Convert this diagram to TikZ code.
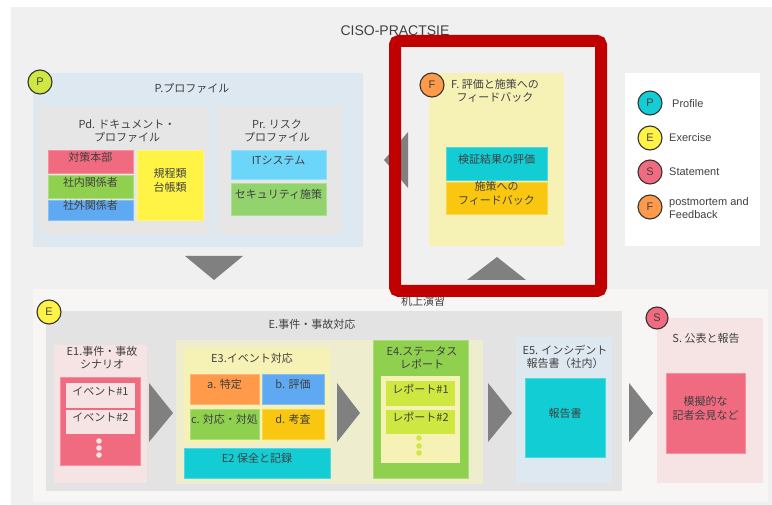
\documentclass[tikz,border=0pt]{standalone}
\usepackage{fontspec}
\setmainfont{Liberation Sans}
\newfontfamily\jp{Noto Sans CJK JP}
\usetikzlibrary{fit}
\definecolor{bgout}{HTML}{F0F0F0}
\definecolor{bglow}{HTML}{F7F6F5}
\definecolor{pblue}{HTML}{DEE8F1}
\definecolor{pgray}{HTML}{E6E6E6}
\definecolor{egray}{HTML}{E3E3E3}
\definecolor{ppink}{HTML}{F5E4E3}
\definecolor{pyel}{HTML}{F6F2B6}
\definecolor{pyel2}{HTML}{EEEECF}
\definecolor{cpink}{HTML}{F06B80}
\definecolor{cgreen}{HTML}{8FD14F}
\definecolor{cgreen2}{HTML}{92D36E}
\definecolor{cblue}{HTML}{5EA9F2}
\definecolor{cyellow}{HTML}{FFF445}
\definecolor{clcyan}{HTML}{6CD6FA}
\definecolor{ccyan}{HTML}{12CDD4}
\definecolor{camber}{HTML}{FAC710}
\definecolor{corange}{HTML}{FF9A4A}
\definecolor{clime}{HTML}{CEE741}
\definecolor{tgray}{HTML}{808080}
\definecolor{cred}{HTML}{C00000}
\definecolor{txt}{HTML}{404040}
\definecolor{cstroke}{HTML}{333333}
\tikzset{
  bx/.style={fill=#1, draw=#1!75!white, line width=0.8pt, inner sep=0pt, align=center, text=txt, font=\jp\fontsize{11}{14}\selectfont},
  area/.style={fill=#1, draw=none, inner sep=0pt},
  lbl/.style={inner sep=0pt, align=center, text=txt, font=\jp\fontsize{11}{13}\selectfont},
  badge/.style={circle, draw=cstroke, line width=1.1pt, fill=#1, minimum size=24pt, inner sep=0pt, text=txt, font=\fontsize{11}{13}\selectfont},
  tri/.style={fill=tgray, draw=none},
  dot/.style={circle, fill=#1, minimum size=5.6pt, inner sep=0pt},
  legt/.style={anchor=west, inner sep=0pt, align=left, text=txt, font=\fontsize{11}{13}\selectfont}
}
\begin{document}
\begin{tikzpicture}[x=1pt,y=-1pt]
\useasboundingbox (0,0) rectangle (772,505);
% backgrounds
\fill[bgout] (11,7) rectangle (772,505);
\node[area=bglow, fit={(33,289) (768,502)}] (lower) {};
\node[text=txt, inner sep=0pt, font=\fontsize{14}{16}\selectfont] (title) at (395,31) {CISO-PRACTSIE};
% P area
\node[area=pblue, fit={(33,73) (363,247)}] (parea) {};
\node[lbl] (ptitle) at (192,88) {P.プロファイル};
\node[area=pgray, fit={(39,106) (209,234)}] (pd) {};
\node[lbl] (pdt) at (127,131) {Pd. ドキュメント・\\プロファイル};
\node[area=pgray, fit={(217,106) (342,234)}] (pr) {};
\node[lbl] (prt) at (277,131) {Pr. リスク\\プロファイル};
\node[bx=cpink, fit={(48,150) (133,173)}] (honbu) {対策本部};
\node[bx=cgreen, fit={(48,175) (133,198)}] (shanai) {社内関係者};
\node[bx=cblue, fit={(48,200) (133,220)}] (shagai) {社外関係者};
\node[bx=cyellow, fit={(137,150) (203,220)}] (kitei) {規程類\\台帳類};
\node[bx=clcyan, fit={(231,150) (326,179)}] (it) {ITシステム};
\node[bx=cgreen2, fit={(231,183) (326,215)}] (sec) {セキュリティ施策};
\node[badge=clime] (bP) at (40,82) {P};
% F area
\node[area=pyel, fit={(429,73) (564,246)}] (farea) {};
\node[lbl] (ft) at (495,91) {F. 評価と施策への\\フィードバック};
\node[bx=ccyan, fit={(446,147) (547,180)}] (kensho) {検証結果の評価};
\node[bx=camber, fit={(446,182) (547,214)}] (fb) {施策への\\フィードバック};
\node[badge=corange] (bF) at (432,85) {F};
% arrows between P/F/E
\fill[tri] (185,256) -- (243,256) -- (214,280) -- cycle;
\fill[tri] (408,132) -- (408,188) -- (384,160) -- cycle;
\fill[tri] (467,280) -- (526,280) -- (497,257) -- cycle;
% legend
\node[area=white, fit={(625,73) (760,246)}] (legend) {};
\node[badge=ccyan] (lP) at (650,103) {P};
\node[badge=cyellow] (lE) at (650,138) {E};
\node[badge=cpink] (lS) at (650,172) {S};
\node[badge=corange] (lF) at (650,207) {F};
\node[legt] (lPt) at (672,104) {Profile};
\node[legt] (lEt) at (669,138) {Exercise};
\node[legt] (lSt) at (669,172) {Statement};
\node[legt] (lFt) at (669,208) {postmortem and\\Feedback};
% lower area
\node[lbl] (kijo) at (423,301) {机上演習};
\node[area=egray, fit={(46,311) (622,491)}] (earea) {};
\node[lbl] (et) at (312,324) {E.事件・事故対応};
\node[badge=cyellow] (bE) at (49,312) {E};
% E1
\node[area=ppink, fit={(54,345) (147,483)}] (e1) {};
\node[lbl] (e1t) at (102,358) {E1.事件・事故\\シナリオ};
\node[bx=cpink, fit={(60,377) (140,465)}] (e1in) {};
\node[bx=ppink, draw=none, fit={(66,383) (135,408)}] (ev1) {イベント\#1};
\node[bx=ppink, draw=none, fit={(66,410) (135,434)}] (ev2) {イベント\#2};
\node[dot=ppink] (d1) at (99,441) {};
\node[dot=ppink] (d2) at (99,448) {};
\node[dot=ppink] (d3) at (99,455) {};
% E3
\node[area=pyel2, fit={(176,340) (483,484)}] (e3out) {};
\node[area=pyel, fit={(184,348) (330,444)}] (e3) {};
\node[lbl] (e3t) at (252,358) {E3.イベント対応};
\node[bx=corange, fit={(190,374) (259,404)}] (ea) {a. 特定};
\node[bx=cblue, fit={(262,374) (324,404)}] (eb) {b. 評価};
\node[bx=cgreen, fit={(190,409) (259,439)}] (ec) {c. 対応・対処};
\node[bx=camber, fit={(262,409) (324,439)}] (ed) {d. 考査};
\node[bx=ccyan, fit={(184,448) (330,478)}] (e2) {E2 保全と記録};
% E4
\node[bx=cgreen, fit={(373,340) (468,478)}] (e4) {};
\node[lbl] (e4t) at (422,358) {E4.ステータス\\レポート};
\node[area=pyel, fit={(381,376) (460,463)}] (e4in) {};
\node[bx=clime, draw=none, fit={(386,381) (455,406)}] (r1) {レポート\#1};
\node[bx=clime, draw=none, fit={(386,410) (455,434)}] (r2) {レポート\#2};
\node[dot=clime] (d4) at (419,438) {};
\node[dot=clime] (d5) at (419,446) {};
\node[dot=clime] (d6) at (419,453) {};
% E5
\node[area=pblue, fit={(516,337) (612,483)}] (e5) {};
\node[lbl] (e5t) at (565,357) {E5. インシデント\\報告書（社内）};
\node[bx=ccyan, fit={(525,378) (605,457)}] (hokoku) {報告書};
% S
\node[area=ppink, fit={(657,318) (763,483)}] (sarea) {};
\node[lbl] (st) at (706,338) {S. 公表と報告};
\node[bx=cpink, fit={(666,373) (745,453)}] (kisha) {模擬的な\\記者会見など};
\node[badge=cpink, minimum size=22pt] (bS) at (657,318) {S};
% flow arrows
\fill[tri] (149,383) -- (149,442) -- (173,413) -- cycle;
\fill[tri] (337,383) -- (337,442) -- (360,413) -- cycle;
\fill[tri] (488,383) -- (488,442) -- (512,413) -- cycle;
\fill[tri] (629,383) -- (629,442) -- (653,413) -- cycle;
% highlight frame
\node[draw=cred, line width=12pt, rounded corners=4pt, inner sep=0pt, fit={(395,41) (601,291)}] (focus) {};
\end{tikzpicture}
\end{document}
